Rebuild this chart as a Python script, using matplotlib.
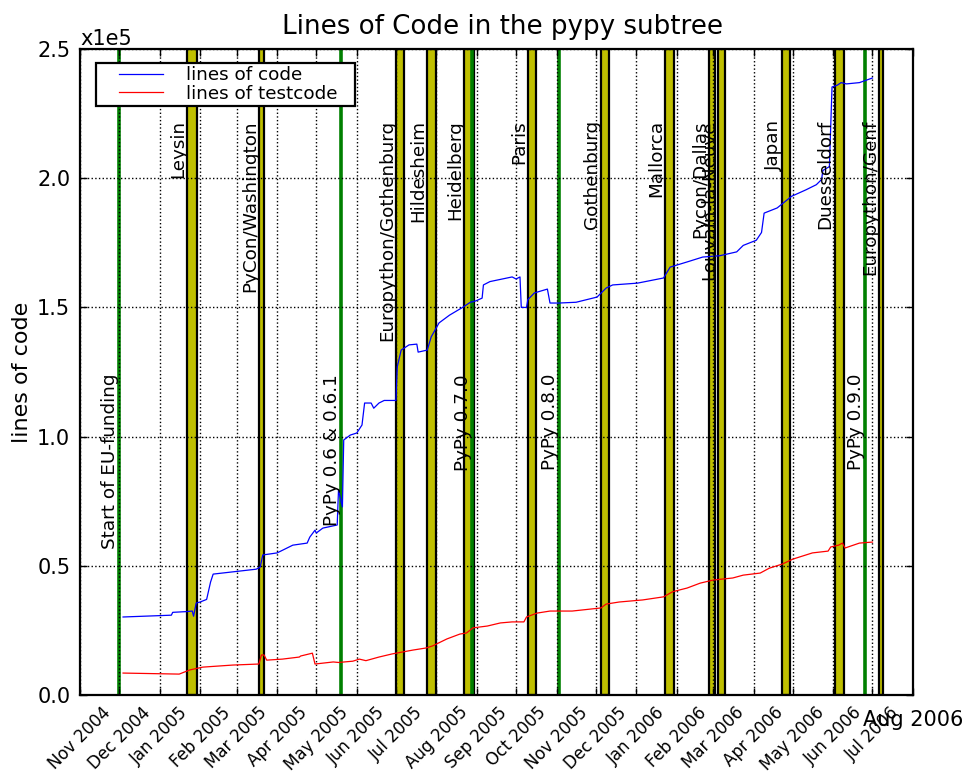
import datetime as dt
import matplotlib
matplotlib.use("Agg")
import matplotlib.pyplot as plt
import matplotlib.dates as mdates
import matplotlib.transforms as mtransforms
from matplotlib.legend_handler import HandlerLine2D
from matplotlib.ticker import FuncFormatter, MultipleLocator

# lines of code
code_dates = ["2004-12-04", "2005-01-10", "2005-01-11", "2005-01-22", "2005-01-26",
              "2005-01-27", "2005-01-29", "2005-02-01", "2005-02-06", "2005-02-09",
              "2005-02-11", "2005-03-16", "2005-03-19", "2005-03-21", "2005-04-01",
              "2005-04-13", "2005-04-24", "2005-04-26", "2005-04-30", "2005-05-01",
              "2005-05-06", "2005-05-17", "2005-05-18", "2005-05-21", "2005-05-22",
              "2005-05-27", "2005-06-01", "2005-06-05", "2005-06-07", "2005-06-12",
              "2005-06-14", "2005-06-18", "2005-06-22", "2005-07-01", "2005-07-02",
              "2005-07-05", "2005-07-11", "2005-07-17", "2005-07-18", "2005-07-25",
              "2005-07-28", "2005-08-03", "2005-08-11", "2005-08-21", "2005-08-27",
              "2005-08-31", "2005-09-05", "2005-09-06", "2005-09-11", "2005-09-28",
              "2005-10-01", "2005-10-04", "2005-10-05", "2005-10-09", "2005-10-10",
              "2005-10-15", "2005-10-25", "2005-10-27", "2005-11-03", "2005-11-16",
              "2005-12-02", "2005-12-09", "2005-12-14", "2006-01-02", "2006-01-22",
              "2006-01-27", "2006-02-09", "2006-02-21", "2006-03-06", "2006-03-19",
              "2006-03-24", "2006-04-03", "2006-04-07", "2006-04-09", "2006-04-19",
              "2006-04-30", "2006-05-11", "2006-05-19", "2006-05-23", "2006-05-24",
              "2006-05-29", "2006-05-31", "2006-06-04", "2006-06-07", "2006-06-11",
              "2006-06-21", "2006-07-01"]
code_lines = [30200, 30900, 32000, 32300, 32500,
              30500, 35600, 36000, 37000, 43700,
              46800, 48700, 49500, 54200, 55000,
              58000, 58800, 61100, 63800, 62700,
              64600, 65800, 79300, 72800, 98700,
              100600, 101400, 104500, 113000, 113000,
              111000, 113000, 114000, 114000, 127000,
              133500, 135500, 135800, 132700, 133500,
              138600, 144000, 147000, 150000, 152000,
              152500, 153600, 158700, 160000, 161800,
              161000, 161800, 150000, 150000, 153000,
              155600, 157100, 151700, 151700, 152000,
              154000, 157500, 158700, 159400, 161400,
              165600, 167600, 169500, 170000, 171500,
              174000, 176000, 179000, 186500, 188500,
              193000, 195500, 197500, 199500, 203000,
              204500, 235300, 236000, 237000, 236500,
              237000, 238800]

# lines of testcode
test_dates = ["2004-12-04", "2005-01-16", "2005-01-24", "2005-02-03", "2005-02-26",
              "2005-03-18", "2005-03-20", "2005-03-22", "2005-03-24", "2005-04-05",
              "2005-04-18", "2005-04-19", "2005-04-28", "2005-04-30", "2005-05-14",
              "2005-05-18", "2005-05-29", "2005-06-03", "2005-06-08", "2005-06-18",
              "2005-06-28", "2005-07-14", "2005-07-24", "2005-07-29", "2005-08-09",
              "2005-08-19", "2005-08-24", "2005-08-29", "2005-09-09", "2005-09-19",
              "2005-09-28", "2005-10-07", "2005-10-09", "2005-10-17", "2005-10-27",
              "2005-11-13", "2005-12-05", "2005-12-09", "2005-12-19", "2006-01-06",
              "2006-01-22", "2006-01-29", "2006-02-09", "2006-02-19", "2006-03-01",
              "2006-03-16", "2006-03-24", "2006-04-06", "2006-04-13", "2006-04-23",
              "2006-05-01", "2006-05-16", "2006-05-28", "2006-05-30", "2006-06-05",
              "2006-06-08", "2006-06-10", "2006-06-21", "2006-07-01"]
test_lines = [8500, 8100, 9700, 10800, 11600,
              12000, 15500, 15500, 13500, 13900,
              14700, 15100, 16200, 12000, 12800,
              12600, 13100, 13900, 13300, 14700,
              15900, 17400, 18200, 19000, 21700,
              23600, 24000, 26000, 26700, 27900,
              28300, 28300, 30200, 31700, 32500,
              32500, 33700, 35200, 36000, 36800,
              38000, 40000, 41400, 43300, 44500,
              45300, 46400, 47200, 49100, 50700,
              52600, 55000, 55700, 57300, 58000,
              58800, 56900, 58800, 59200]

sprint_names = ["Leysin", "PyCon/Washington", "Europython/Gothenburg", "Hildesheim",
                "Heidelberg", "Paris", "Gothenburg", "Mallorca", "Pycon/Dallas",
                "Louvain-la-Neuve", "Japan", "Duesseldorf", "Europython/Genf"]
sprint_start = ["2005-01-22", "2005-03-18", "2005-07-01", "2005-07-25", "2005-08-22",
                "2005-10-10", "2005-12-05", "2006-01-23", "2006-02-26", "2006-03-05",
                "2006-04-23", "2006-06-02", "2006-07-06"]
sprint_end = ["2005-01-30", "2005-03-22", "2005-07-07", "2005-08-01", "2005-08-30",
              "2005-10-16", "2005-12-11", "2006-01-30", "2006-03-02", "2006-03-10",
              "2006-04-29", "2006-06-09", "2006-07-09"]

release_names = ["Start of EU-funding", "PyPy 0.6 & 0.6.1", "PyPy 0.7.0",
                 "PyPy 0.8.0", "PyPy 0.9.0"]
release_dates = ["2004-12-01", "2005-05-20", "2005-08-28", "2005-11-03", "2006-06-25"]

tick_months = ["2004-11-01", "2004-12-01", "2005-01-01", "2005-02-01", "2005-03-01",
               "2005-04-01", "2005-05-01", "2005-06-01", "2005-07-01", "2005-08-01",
               "2005-09-01", "2005-10-01", "2005-11-01", "2005-12-01", "2006-01-01",
               "2006-02-01", "2006-03-01", "2006-04-01", "2006-05-01", "2006-06-01",
               "2006-07-01", "2006-08-01"]


def d(s):
    return dt.datetime.strptime(s, "%Y-%m-%d")


fig = plt.figure(figsize=(9.66, 7.72), dpi=100)
ax = fig.add_axes([0.0828, 0.0997, 0.8623, 0.8368])

for name, s, e in zip(sprint_names, sprint_start, sprint_end):
    ax.axvspan(d(s), d(e), facecolor=(0.75, 0.75, 0.0), edgecolor="black",
               linewidth=1.6, zorder=1)
for name, r in zip(release_names, release_dates):
    ax.axvline(d(r), color=(0.0, 0.5, 0.0), linewidth=2.6, zorder=1.5)

l1, = ax.plot([d(x) for x in code_dates], code_lines, color="blue", linewidth=0.9,
              label="lines of code", zorder=2)
l2, = ax.plot([d(x) for x in test_dates], test_lines, color="red", linewidth=0.9,
              label="lines of testcode", zorder=2)

trans = mtransforms.blended_transform_factory(ax.transData, ax.transAxes)
for name, s in zip(sprint_names, sprint_start):
    ax.text(d(s), 0.89, name, rotation=90, ha="right", va="top",
            fontsize=13.2, transform=trans, zorder=3)
for name, r in zip(release_names, release_dates):
    ax.text(d(r), 0.497, name, rotation=90, ha="right", va="top",
            fontsize=13.2, transform=trans, zorder=3)

ax.set_xlim(d("2004-11-01"), d("2006-08-01"))
ax.set_ylim(0, 250000)
ax.set_xticks([d(m) for m in tick_months])
ax.xaxis.set_major_formatter(mdates.DateFormatter("%b %Y"))
ax.yaxis.set_major_locator(MultipleLocator(50000))
ax.yaxis.set_major_formatter(FuncFormatter(lambda v, p: "%.1f" % (v / 1e5)))

ax.grid(True, color="black", linestyle=":", linewidth=1.0)
ax.tick_params(direction="in", length=5, width=1, top=True, right=True)
ax.tick_params(axis="y", labelsize=15, pad=7)
ax.tick_params(axis="x", pad=6)
for sp in ax.spines.values():
    sp.set_linewidth(1.6)

labels = ax.get_xticklabels()
for lab in labels[:-1]:
    lab.set_rotation(45)
    lab.set_fontsize(12)
labels[-1].set_fontsize(15)
labels[-1].set_transform(labels[-1].get_transform() +
                         mtransforms.ScaledTranslation(0, -5 / 72, fig.dpi_scale_trans))

ax.text(0.0, 1.0, "x1e5", transform=ax.transAxes, ha="left", va="bottom",
        fontsize=15)
ax.set_title("Lines of Code in the pypy subtree", fontsize=18.8, pad=11, x=0.507)
ax.set_ylabel("lines of code", fontsize=16, labelpad=4)

leg = ax.legend(handles=[l1, l2], loc="upper left", fontsize=13.2, fancybox=False,
                framealpha=1, edgecolor="black", handlelength=3.5, handletextpad=1.25,
                borderpad=0.15, labelspacing=0.05, borderaxespad=0.0,
                bbox_to_anchor=(0.0192, 0.5, 0.311, 0.478), mode="expand",
                handler_map={l1: HandlerLine2D(xpad=1.1), l2: HandlerLine2D(xpad=1.1)})
leg.get_frame().set_linewidth(1.6)

fig.savefig("out.png", dpi=100, facecolor="white")
